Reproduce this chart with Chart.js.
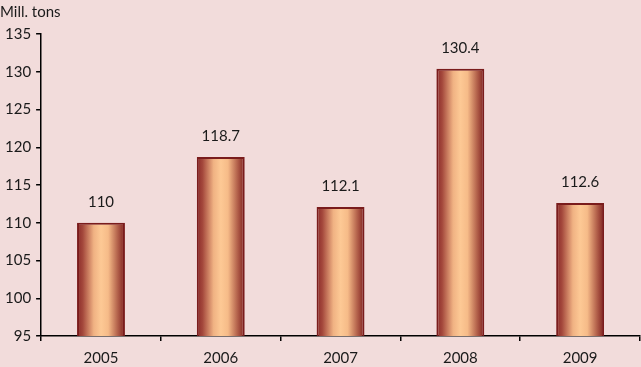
<!DOCTYPE html>
<html>
<head>
<meta charset="utf-8">
<script src="https://cdn.jsdelivr.net/npm/chart.js@4"></script>
<style>
  body { margin: 0; background: #f2dcdb; }
  #wrap { width: 641px; height: 367px; }
</style>
</head>
<body>
<div id="wrap"><canvas id="chart" width="641" height="367"></canvas></div>
<script>
// Data
const years = ["2005", "2006", "2007", "2008", "2009"];
const volumes = [110, 118.7, 112.1, 130.4, 112.6];
const valueLabels = ["110", "118.7", "112.1", "130.4", "112.6"];

const FONT = "Lato, 'Open Sans', sans-serif";

// horizontal gradient across each bar
function barGradient(ctx) {
    const chart = ctx.chart;
    const x = chart.scales && chart.scales.x;
    if (!x || ctx.dataIndex == null) return "#f9c48e";
    const cx = x.getPixelForValue(ctx.dataIndex);
    const w = x.width / years.length * 0.4;
    if (!isFinite(cx) || !isFinite(w) || w <= 0) return "#f9c48e";
    const g = chart.ctx.createLinearGradient(cx - w / 2, 0, cx + w / 2, 0);
    g.addColorStop(0, "#8a2a28");
    g.addColorStop(0.12, "#a4483c");
    g.addColorStop(0.35, "#f0b283");
    g.addColorStop(0.5, "#fdc995");
    g.addColorStop(0.65, "#f6bb88");
    g.addColorStop(0.85, "#b2604a");
    g.addColorStop(1, "#7e1f1f");
    return g;
}

// value labels above the bars
const topLabels = {
    id: "topLabels",
    afterDatasetsDraw(chart) {
        const c = chart.ctx;
        const meta = chart.getDatasetMeta(0);
        c.save();
        c.font = "15px " + FONT;
        c.fillStyle = "#1a1a1a";
        c.textAlign = "center";
        c.textBaseline = "bottom";
        meta.data.forEach((el, i) => {
            c.fillText(valueLabels[i], el.x, el.y - 13);
        });
        c.restore();
    }
};

const chart = new Chart(document.getElementById("chart"), {
    type: "bar",
    data: {
        labels: years,
        datasets: [{
            data: volumes,
            backgroundColor: barGradient,
            borderColor: "#7a1c1c",
            borderWidth: 2,
            borderSkipped: "bottom",
            categoryPercentage: 1,
            barPercentage: 0.4
        }]
    },
    options: {
        responsive: false,
        animation: false,
        layout: { padding: { left: 0, right: 1, top: 0, bottom: -8 } },
        plugins: {
            legend: { display: false },
            tooltip: { enabled: false },
            title: {
                display: true,
                text: "Mill. tons",
                align: "start",
                color: "#1a1a1a",
                font: { family: FONT, size: 15, weight: "normal" },
                padding: { top: 3, bottom: 13 }
            }
        },
        scales: {
            x: {
                offset: true,
                grid: {
                    offset: true,
                    drawOnChartArea: false,
                    drawTicks: true,
                    tickLength: 5,
                    color: "#000",
                    lineWidth: 1.5
                },
                border: { color: "#000", width: 1.5 },
                ticks: {
                    color: "#1a1a1a",
                    font: { family: FONT, size: 15 },
                    padding: 8,
                    maxRotation: 0
                }
            },
            y: {
                min: 95,
                max: 135,
                ticks: {
                    stepSize: 5,
                    color: "#1a1a1a",
                    font: { family: FONT, size: 15 },
                    padding: 5
                },
                grid: {
                    drawOnChartArea: false,
                    drawTicks: true,
                    tickLength: 5,
                    color: "#000",
                    lineWidth: 1.5
                },
                border: { color: "#000", width: 1.5 }
            }
        }
    },
    plugins: [topLabels]
});
</script>
</body>
</html>
